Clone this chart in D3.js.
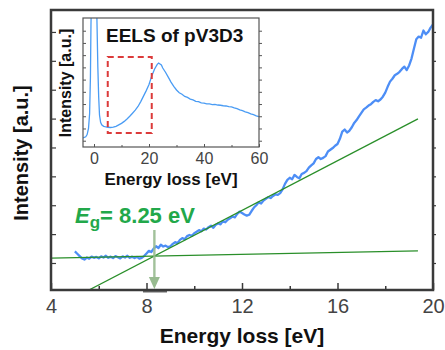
<!DOCTYPE html>
<html><head><meta charset="utf-8">
<script src="https://cdn.jsdelivr.net/npm/d3@7"></script>
<style>body{margin:0;background:#fff}svg{display:block;font-family:"Liberation Sans",Arial,sans-serif}</style>
</head><body><svg id="c" width="445" height="350"></svg>
<script>
// ---- main spectrum (energy loss 5.0..20.0 eV, step 0.1) ----
const mainStart = 5.0, mainStep = 0.1;
const mainIntensity = [
1.40,1.32,1.24,1.16,1.12,1.19,1.15,1.22,1.18,1.21,
1.16,1.23,1.19,1.25,1.18,1.22,1.17,1.24,1.20,1.16,
1.23,1.19,1.25,1.18,1.22,1.17,1.21,1.15,1.18,1.24,
1.33,1.42,1.38,1.50,1.58,1.52,1.63,1.57,1.60,1.55,
1.58,1.66,1.72,1.69,1.80,1.86,1.82,1.93,1.97,1.94,
2.03,2.08,2.14,2.10,2.19,2.16,2.24,2.29,2.22,2.32,
2.37,2.34,2.45,2.41,2.50,2.55,2.61,2.58,2.70,2.78,
2.73,2.68,2.64,2.67,2.80,2.92,3.00,3.10,3.06,3.16,
3.22,3.28,3.25,3.32,3.38,3.36,3.42,3.55,3.74,3.88,
3.95,3.90,4.05,3.98,3.93,4.08,4.12,4.18,4.30,4.38,
4.45,4.60,4.66,4.60,4.64,4.70,4.86,4.92,4.98,5.06,
5.12,5.30,5.55,5.62,5.52,5.58,5.70,5.85,5.95,6.08,
6.20,6.32,6.38,6.45,6.50,6.58,6.64,6.60,6.66,6.76,
6.90,7.10,7.28,7.38,7.50,7.55,7.62,7.72,7.80,7.68,
7.84,8.08,8.42,8.75,8.84,8.80,9.05,8.92,9.00,9.15,
9.26];
const mainEnergy = mainIntensity.map((_, i) => +(mainStart + i * mainStep).toFixed(2));

// fitted lines: [x0, y0, x1, y1]
const baselineFit = [4.0, 1.17, 19.37, 1.42];
const slopeFit = [5.59, 0.065, 19.37, 5.99];
const gapEnergy = 8.33;   // arrow position
const gapLabel = "= 8.25 eV";

const xTicksMain = [4, 8, 12, 16, 20];
const xMinorMain = [6, 10, 14, 18];
const yTicksMain = [1, 2, 3, 4, 5, 6, 7, 8, 9];

// ---- inset: full EELS spectrum ----
const insetEnergy = [-4,-3,-2.5,-2,-1.6,-1.3,-1.1,-0.8,0,0.8,1.1,1.4,1.7,2.0,2.4,2.8,3.5,4,5,6,7,8,9,10,11,12,13,14,15,16,17,18,19,20,21,22,22.5,23,23.5,24,24.5,25,26,27,28,29,30,31,32,33,34,35,36,37,38,39,40,41,42,43,44,45,46,47,48,49,50,51,52,53,54,55,56,57,58,59,60];
const insetIntensity = [1.22,1.32,1.50,2.00,3.20,6.20,10.5,14,20,14,10.5,7.0,4.6,3.1,2.5,2.3,2.18,2.15,2.10,2.08,2.12,2.18,2.30,2.42,2.58,2.78,3.00,3.25,3.50,3.80,4.20,4.65,5.10,5.60,6.30,6.85,7.05,7.25,7.35,7.28,7.20,6.95,6.60,6.20,5.80,5.45,5.15,4.92,4.80,4.62,4.54,4.40,4.34,4.22,4.20,4.10,4.08,4.02,4.02,3.96,3.97,3.92,3.90,3.86,3.84,3.78,3.76,3.68,3.62,3.52,3.46,3.36,3.30,3.20,3.14,3.04,2.96];
const insetXTicks = [0, 20, 40, 60];
const insetXMinor = [10, 30, 50];
const insetYTicks = [1,2,3,4,5,6,7,8,9,10];
const zoomBox = [5, 21, 1.63, 7.85]; // x0, x1, y0, y1

const svg = d3.select("#c");
const M = {l: 51, r: 433, t: 10, b: 290};
const x = d3.scaleLinear().domain([4, 20]).range([M.l, M.r]);
const y = d3.scaleLinear().domain([0.065, 9.76]).range([M.b, M.t]);

svg.append("clipPath").attr("id","mclip").append("rect")
  .attr("x", M.l).attr("y", M.t).attr("width", M.r - M.l).attr("height", M.b - M.t);

const gMain = svg.append("g").attr("clip-path","url(#mclip)");
const line = d3.line().x(d => x(d[0])).y(d => y(d[1]));
gMain.append("path").datum(mainEnergy.map((e, i) => [e, mainIntensity[i]]))
  .attr("d", line).attr("fill","none").attr("stroke","#4d8ef6").attr("stroke-width",2.3)
  .attr("stroke-linejoin","round");

[baselineFit, slopeFit].forEach(f => {
  gMain.append("line").attr("x1", x(f[0])).attr("y1", y(f[1])).attr("x2", x(f[2])).attr("y2", y(f[3]))
    .attr("stroke","#2a8f2a").attr("stroke-width",1.3);
});

// arrow
const ax = x(gapEnergy);
svg.append("line").attr("x1", ax).attr("x2", ax).attr("y1", 230).attr("y2", 279)
  .attr("stroke","#98bb90").attr("stroke-width",2.4).attr("opacity",0.9);
svg.append("path").attr("d", `M${ax-5.5},277 L${ax+5.5},277 L${ax},289 Z`).attr("fill","#98bb90");

// axes
const axC = "#3a3a3a";
const xAx = svg.append("g").attr("transform", `translate(0,${M.b})`)
  .call(d3.axisBottom(x).tickValues(xTicksMain).tickSize(-7).tickPadding(9).tickFormat(d3.format("d")));
xAx.select(".domain").remove();
xAx.selectAll(".tick line").attr("stroke", axC).attr("stroke-width",1.5);
xAx.selectAll("text").attr("font-size",20).attr("fill","#444").attr("font-family","Liberation Sans, Arial").attr("dy","0.71em");
const xMin = svg.append("g").attr("transform", `translate(0,${M.b})`)
  .call(d3.axisBottom(x).tickValues(xMinorMain).tickSize(-4).tickFormat(""));
xMin.select(".domain").remove();
xMin.selectAll(".tick line").attr("stroke", axC).attr("stroke-width",1.5);

const yAx = svg.append("g").attr("transform", `translate(${M.l},0)`)
  .call(d3.axisLeft(y).tickValues(yTicksMain).tickSize(-5).tickFormat(""));
yAx.select(".domain").remove();
yAx.selectAll(".tick line").attr("stroke", axC).attr("stroke-width",1.2);
const yAxR = svg.append("g").attr("transform", `translate(${M.r},0)`)
  .call(d3.axisRight(y).tickValues(yTicksMain).tickSize(3).tickFormat(""));
yAxR.select(".domain").remove();
yAxR.selectAll(".tick line").attr("stroke", axC).attr("stroke-width",1.2);

// small darker segment on the bottom axis
svg.append("line").attr("x1",143).attr("x2",167).attr("y1",M.b+1.5).attr("y2",M.b+1.5)
  .attr("stroke","#666").attr("stroke-width",2);

svg.append("rect").attr("x", M.l).attr("y", M.t).attr("width", M.r - M.l).attr("height", M.b - M.t)
  .attr("fill","none").attr("stroke", axC).attr("stroke-width",2.5);

// labels
svg.append("text").attr("x", 242).attr("y", 343).attr("text-anchor","middle")
  .attr("font-size",21).attr("font-weight","bold").attr("fill","#111").text("Energy loss [eV]");
svg.append("text").attr("transform","translate(28,153) rotate(-90)").attr("text-anchor","middle")
  .attr("font-size",20).attr("font-weight","bold").attr("fill","#111").text("Intensity [a.u.]");

const eg = svg.append("text").attr("x", 75).attr("y", 222.5).attr("font-weight","bold")
  .attr("fill","#22a84a").attr("font-size",22);
eg.append("tspan").attr("font-style","italic").text("E");
eg.append("tspan").attr("font-size",17).attr("dy",5).text("g");
eg.append("tspan").attr("dy",-5).text(gapLabel);

// ---- inset ----
const I = {l: 83, r: 259, t: 18, b: 147};
const xi = d3.scaleLinear().domain([-4, 60]).range([I.l, I.r]);
const yi = d3.scaleLinear().domain([0.485, 11.04]).range([I.b, I.t]);
svg.append("rect").attr("x", I.l).attr("y", I.t).attr("width", I.r - I.l).attr("height", I.b - I.t).attr("fill","#fff");
svg.append("clipPath").attr("id","iclip").append("rect")
  .attr("x", I.l).attr("y", I.t).attr("width", I.r - I.l).attr("height", I.b - I.t);
const li = d3.line().x(d => xi(d[0])).y(d => yi(d[1]));
svg.append("g").attr("clip-path","url(#iclip)").append("path")
  .datum(insetEnergy.map((e, i) => [e, insetIntensity[i]]))
  .attr("d", li).attr("fill","none").attr("stroke","#4a9cf4").attr("stroke-width",1.3);

svg.append("rect").attr("x", xi(zoomBox[0])).attr("y", yi(zoomBox[3]))
  .attr("width", xi(zoomBox[1]) - xi(zoomBox[0])).attr("height", yi(zoomBox[2]) - yi(zoomBox[3]))
  .attr("fill","none").attr("stroke","#dc3b3b").attr("stroke-width",2).attr("stroke-dasharray","6,4");

const iC = "#555";
const xiAx = svg.append("g").attr("transform", `translate(0,${I.b})`)
  .call(d3.axisBottom(xi).tickValues(insetXTicks).tickSize(-3).tickPadding(6).tickFormat(d3.format("d")));
xiAx.select(".domain").remove();
xiAx.selectAll(".tick line").attr("stroke", iC);
xiAx.selectAll("text").attr("font-size",16).attr("fill","#444").attr("font-family","Liberation Sans, Arial").attr("dy","0.71em");
const xiMin = svg.append("g").attr("transform", `translate(0,${I.b})`)
  .call(d3.axisBottom(xi).tickValues(insetXMinor).tickSize(-2).tickFormat(""));
xiMin.select(".domain").remove();
xiMin.selectAll(".tick line").attr("stroke", iC);
[[I.l, -3], [I.r, 3]].forEach(([px, s]) => {
  const g = svg.append("g").attr("transform", `translate(${px},0)`)
    .call((s < 0 ? d3.axisLeft(yi) : d3.axisRight(yi)).tickValues(insetYTicks).tickSize(s).tickFormat(""));
  g.select(".domain").remove();
  g.selectAll(".tick line").attr("stroke", iC);
});
svg.append("rect").attr("x", I.l).attr("y", I.t).attr("width", I.r - I.l).attr("height", I.b - I.t)
  .attr("fill","none").attr("stroke", iC).attr("stroke-width",1.2);

svg.append("text").attr("x", 106).attr("y", 42).attr("font-size",19).attr("font-weight","bold")
  .attr("fill","#111").text("EELS of pV3D3");
svg.append("text").attr("x", 171).attr("y", 185).attr("text-anchor","middle").attr("font-size",17)
  .attr("font-weight","bold").attr("fill","#111").text("Energy loss [eV]");
svg.append("text").attr("transform","translate(71,83) rotate(-90)").attr("text-anchor","middle")
  .attr("font-size",16).attr("font-weight","bold").attr("fill","#111").text("Intensity [a.u.]");
</script></body></html>
